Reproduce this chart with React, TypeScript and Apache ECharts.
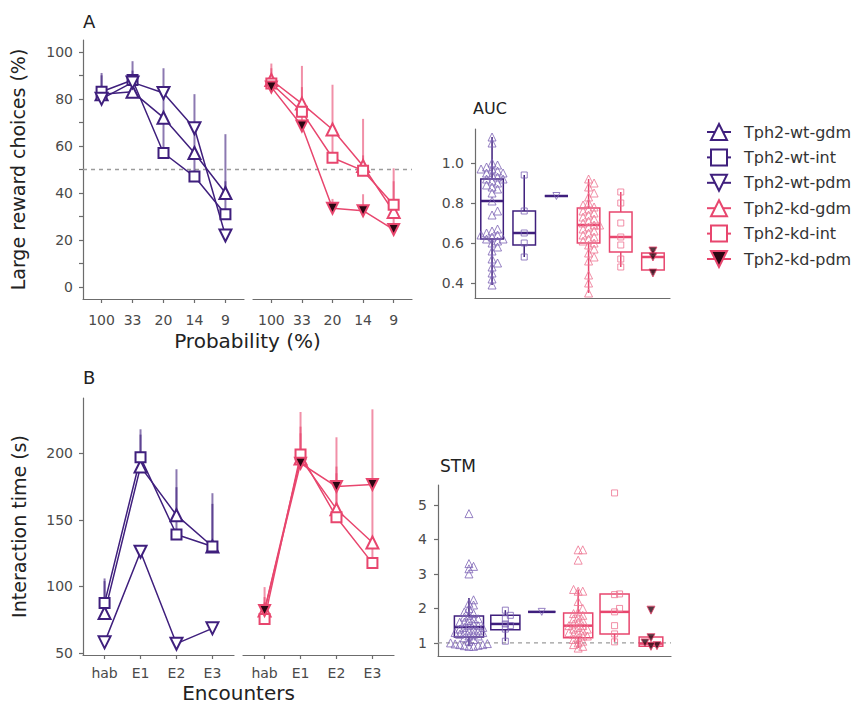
import React, { useEffect, useRef } from "react";
import * as echarts from "echarts";

// ---------- categories & labels ----------
const groups = [
  "Tph2-wt-gdm",
  "Tph2-wt-int",
  "Tph2-wt-pdm",
  "Tph2-kd-gdm",
  "Tph2-kd-int",
  "Tph2-kd-pdm",
];
const probabilityLabels = ["100", "33", "20", "14", "9"];
const encounterLabels = ["hab", "E1", "E2", "E3"];
const choiceTickValues = [0, 10, 20, 30, 40, 50, 60, 70, 80, 90, 100];
const choiceLabelValues = [0, 20, 40, 60, 80, 100];
const timeTickValues = [50, 100, 150, 200];
const aucTickValues = [0.4, 0.6, 0.8, 1.0];
const stmTickValues = [1, 2, 3, 4, 5];
const chanceLevel = 50;
const stmReference = 1;

// ---------- panel A: large reward choices (%) per probability ----------
const choiceWtGdm = [82, 83, 72, 57, 40];
const choiceWtInt = [83, 88, 57, 47, 31];
const choiceWtPdm = [80, 87, 82.5, 67.5, 22];
const choiceKdGdm = [88, 78, 67, 51.5, 32];
const choiceKdInt = [86.5, 74.5, 55, 49.5, 35];
const choiceKdPdm = [85, 68.5, 33.5, 32.5, 24.5];
// upper ends of the error bars
const choiceWtGdmUpper = [90, 92, 93, 82, 65];
const choiceWtIntUpper = [91, 96, 72, 57, 45];
const choiceKdGdmUpper = [95, 94, 86, 71.5, 50.5];
const choiceKdIntUpper = [93, 85, 67, 56, 45];
const choiceKdPdmUpper = [90, 78, 37.5, 39.5, 30];

// ---------- panel B: interaction time (s) per encounter ----------
const timeWtGdm = [80, 190, 153.5, 130];
const timeWtInt = [87.5, 197, 139, 130];
const timeWtPdm = [58, 126, 57, 68.5];
const timeKdGdm = [82, 196, 158, 133];
const timeKdInt = [75.5, 199, 152, 117.5];
const timeKdPdm = [82, 192.5, 175, 176.5];
const timeWtGdmUpper = [106, 214, 188, 170];
const timeWtIntUpper = [104, 218, 174.5, 162];
const timeKdGdmUpper = [99.5, 231, 212, 177];
const timeKdIntUpper = [88, 220, 185, 133];
const timeKdPdmUpper = [92, 215, 190, 233];

// ---------- AUC: individual animals ----------
const aucWtGdm = [
  1.13, 1.1, 1.0, 0.99, 0.98, 0.97, 0.97, 0.96, 0.95, 0.95, 0.94, 0.93, 0.92,
  0.92, 0.91, 0.9, 0.89, 0.88, 0.87, 0.85, 0.81, 0.76, 0.74, 0.67, 0.66, 0.65,
  0.64, 0.64, 0.63, 0.62, 0.62, 0.61, 0.6, 0.58, 0.56, 0.52, 0.5, 0.48, 0.45,
  0.42, 0.39,
];
const aucWtInt = [0.94, 0.76, 0.65, 0.6, 0.53];
const aucWtPdm = [0.835];
const aucKdGdm = [
  0.92, 0.9, 0.88, 0.85, 0.83, 0.8, 0.79, 0.78, 0.77, 0.76, 0.75, 0.74, 0.73,
  0.72, 0.71, 0.7, 0.69, 0.69, 0.68, 0.67, 0.66, 0.65, 0.64, 0.63, 0.62, 0.61,
  0.6, 0.59, 0.57, 0.55, 0.53, 0.51, 0.44, 0.4, 0.35,
];
const aucKdInt = [0.855, 0.8, 0.7, 0.63, 0.59, 0.52, 0.48];
const aucKdPdm = [0.56, 0.53, 0.45];
// box statistics: [lower whisker, Q1, median, Q3, upper whisker]
const aucBoxWtGdm = [0.39, 0.62, 0.81, 0.92, 1.13];
const aucBoxWtInt = [0.53, 0.59, 0.65, 0.76, 0.94];
const aucBoxWtPdm = [0.835, 0.835, 0.835, 0.835, 0.835];
const aucBoxKdGdm = [0.35, 0.6, 0.69, 0.775, 0.92];
const aucBoxKdInt = [0.48, 0.555, 0.63, 0.755, 0.855];
const aucBoxKdPdm = [0.45, 0.465, 0.53, 0.55, 0.56];

// ---------- STM: individual animals ----------
const stmWtGdm = [
  4.75, 3.3, 3.22, 3.15, 3.0, 2.25, 2.15, 2.1, 2.0, 1.9, 1.85, 1.8, 1.75, 1.7,
  1.7, 1.65, 1.6, 1.6, 1.55, 1.5, 1.5, 1.45, 1.45, 1.4, 1.4, 1.35, 1.35, 1.3,
  1.3, 1.3, 1.25, 1.25, 1.2, 1.2, 1.15, 1.1, 1.05, 1.0, 0.98, 0.97, 0.95, 0.95,
  0.93, 0.92, 0.9, 0.9,
];
const stmWtInt = [1.95, 1.8, 1.7, 1.55, 1.5, 1.4, 1.05];
const stmWtPdm = [1.9];
const stmKdGdm = [
  3.7, 3.7, 3.4, 2.55, 2.5, 2.5, 2.2, 2.0, 1.9, 1.85, 1.8, 1.75, 1.7, 1.65, 1.6,
  1.55, 1.5, 1.5, 1.45, 1.4, 1.4, 1.35, 1.3, 1.3, 1.25, 1.2, 1.2, 1.15, 1.1,
  1.05, 1.0, 0.95, 0.9, 0.85,
];
const stmKdInt = [5.35, 2.42, 2.4, 2.0, 1.9, 1.5, 1.26, 1.03];
const stmKdPdm = [1.95, 1.15, 1.0, 0.92, 0.9];
const stmBoxWtGdm = [0.9, 1.17, 1.46, 1.78, 2.3];
const stmBoxWtInt = [1.05, 1.38, 1.55, 1.8, 1.95];
const stmBoxWtPdm = [1.9, 1.9, 1.9, 1.9, 1.9];
const stmBoxKdGdm = [0.85, 1.15, 1.5, 1.87, 2.55];
const stmBoxKdInt = [1.03, 1.26, 1.9, 2.42, 2.42];
const stmBoxKdPdm = [0.88, 0.9, 0.98, 1.17, 1.17];

// ---------- styling ----------
const FONT = "DejaVu Sans";
const WT = "#3f1f7d";
const WT_POINT = "#7c62b4";
const KD = "#e8466e";
const KD_POINT = "#ee7391";
const KD_DARK = "#2a0612";
const AXIS = "#6c6c6c";
const TICK_TEXT = "#4a4a4a";
const TITLE_TEXT = "#222";
const CLEAR = "rgba(255,255,255,0)";

const UP = "triangle";
const SQUARE = "rect";
const DOWN = "path://M0,0L10,0L5,8.7Z";

type GroupStyle = { color: string; symbol: string; size: number; fill: string };
const lineStyles: Record<string, GroupStyle> = {
  "Tph2-wt-gdm": { color: WT, symbol: UP, size: 12, fill: "#fff" },
  "Tph2-wt-int": { color: WT, symbol: SQUARE, size: 10, fill: "#fff" },
  "Tph2-wt-pdm": { color: WT, symbol: DOWN, size: 12, fill: "#fff" },
  "Tph2-kd-gdm": { color: KD, symbol: UP, size: 12, fill: "#fff" },
  "Tph2-kd-int": { color: KD, symbol: SQUARE, size: 10, fill: "#fff" },
  "Tph2-kd-pdm": { color: KD, symbol: DOWN, size: 11, fill: KD_DARK },
};

// ---------- layout ----------
const gridAwt = { left: 83, top: 40, width: 161, height: 259 };
const gridAkd = { left: 253, top: 40, width: 159, height: 259 };
const gridAall = { left: 83, top: 40, width: 329, height: 259 };
const gridAuc = { left: 475, top: 129, width: 195, height: 169 };
const gridBwt = { left: 83, top: 398, width: 151, height: 257 };
const gridBkd = { left: 243, top: 398, width: 151, height: 257 };
const gridBall = { left: 83, top: 398, width: 311, height: 257 };
const gridStm = { left: 438, top: 485, width: 233, height: 171 };

const CHOICE_RANGE = [-5, 105];
const TIME_RANGE = [48.5, 241.5];
const AUC_X = [-0.53, 5.53];
const AUC_Y = [0.325, 1.17];
const STM_X = [-0.85, 5.55];
const STM_Y = [0.62, 5.58];

const axisLine = { show: true, onZero: false, lineStyle: { color: AXIS, width: 1.2 } };
const tickLine = { lineStyle: { color: AXIS, width: 1.2 }, length: 4 };
const tickText = { color: TICK_TEXT, fontFamily: FONT, fontSize: 14 };
const titleText = { color: TITLE_TEXT, fontFamily: FONT, fontSize: 19 };

function categoryXAxis(gridIndex: number, labels: string[], margin: number) {
  const idx = labels.map((_, i) => i);
  return {
    type: "value",
    gridIndex,
    min: -0.6,
    max: labels.length - 0.4,
    axisLine,
    axisTick: { show: true, ...tickLine, customValues: idx },
    axisLabel: {
      show: true,
      ...tickText,
      margin,
      customValues: idx,
      formatter: (v: number) => labels[Math.round(v)] ?? "",
    },
    splitLine: { show: false },
  };
}

function hiddenAxis(gridIndex: number, range: number[]) {
  return { type: "value", gridIndex, min: range[0], max: range[1], show: false };
}

function bareAxis(gridIndex: number, range: number[], showLine: boolean) {
  return {
    type: "value",
    gridIndex,
    min: range[0],
    max: range[1],
    axisLine: { ...axisLine, show: showLine },
    axisTick: { show: false },
    axisLabel: { show: false },
    splitLine: { show: false },
  };
}

function lineSeries(name: string, values: number[], axisIndex: number) {
  const s = lineStyles[name];
  return {
    type: "line",
    name,
    xAxisIndex: axisIndex,
    yAxisIndex: axisIndex,
    data: values.map((v, i) => [i, v]),
    symbol: s.symbol,
    symbolSize: s.size,
    showSymbol: true,
    lineStyle: { color: s.color, width: 1.5 },
    itemStyle: { color: s.fill, borderColor: s.color, borderWidth: 2 },
    emphasis: { disabled: true },
    silent: true,
    z: 4,
  };
}

function errorSeries(values: number[], upper: number[], axisIndex: number, color: string) {
  return {
    type: "custom",
    xAxisIndex: axisIndex,
    yAxisIndex: axisIndex,
    silent: true,
    z: 2,
    data: values.map((v, i) => [i, v, upper[i]]),
    renderItem: (_p: any, api: any) => {
      const a = api.coord([api.value(0), api.value(1)]);
      const b = api.coord([api.value(0), api.value(2)]);
      return {
        type: "line",
        shape: { x1: a[0], y1: a[1], x2: b[0], y2: b[1] },
        style: { stroke: color, lineWidth: 2, opacity: 0.6 },
      };
    },
  };
}

function boxSeries(stats: number[], cat: number, axisIndex: number, color: string, widthUnits: number) {
  return {
    type: "custom",
    xAxisIndex: axisIndex,
    yAxisIndex: axisIndex,
    silent: true,
    z: 3,
    data: [[cat, ...stats]],
    renderItem: (_p: any, api: any) => {
      const x = api.value(0);
      const c = (d: number) => api.coord([x, api.value(d)]);
      const pMin = c(1), pQ1 = c(2), pMed = c(3), pQ3 = c(4), pMax = c(5);
      const half = api.size([widthUnits, 0])[0] / 2;
      const cx = pMed[0];
      const stroke = { stroke: color, lineWidth: 1.5, fill: "none" };
      return {
        type: "group",
        children: [
          { type: "line", shape: { x1: cx, y1: pMin[1], x2: cx, y2: pQ1[1] }, style: stroke },
          { type: "line", shape: { x1: cx, y1: pQ3[1], x2: cx, y2: pMax[1] }, style: stroke },
          {
            type: "rect",
            shape: { x: cx - half, y: pQ3[1], width: half * 2, height: pQ1[1] - pQ3[1] },
            style: stroke,
          },
          {
            type: "line",
            shape: { x1: cx - half, y1: pMed[1], x2: cx + half, y2: pMed[1] },
            style: { stroke: color, lineWidth: 2.5 },
          },
        ],
      };
    },
  };
}

// simple beeswarm: horizontal pixel offsets so that the dots do not overlap
function swarmOffsets(values: number[], pxPerY: number, diameter: number) {
  const order = values.map((_, i) => i).sort((a, b) => values[a] - values[b]);
  const placed: { x: number; y: number }[] = [];
  const out = new Array(values.length).fill(0);
  const step = diameter * 0.5;
  for (const i of order) {
    const y = values[i] * pxPerY;
    let chosen = 0;
    for (let k = 0; k < 400; k++) {
      const off = Math.ceil(k / 2) * step * (k % 2 === 1 ? 1 : -1);
      const free = placed.every((p) => (p.x - off) ** 2 + (p.y - y) ** 2 >= diameter * diameter);
      if (free) {
        chosen = off;
        break;
      }
    }
    placed.push({ x: chosen, y });
    out[i] = chosen;
  }
  return out;
}

function swarmSeries(
  values: number[],
  cat: number,
  axisIndex: number,
  grid: { width: number; height: number },
  xr: number[],
  yr: number[],
  symbol: string,
  size: number,
  spacing: number,
  stroke: string,
  fill: string
) {
  const pxX = grid.width / (xr[1] - xr[0]);
  const pxY = grid.height / (yr[1] - yr[0]);
  const offs = swarmOffsets(values, pxY, spacing);
  return {
    type: "scatter",
    xAxisIndex: axisIndex,
    yAxisIndex: axisIndex,
    silent: true,
    z: 5,
    symbol,
    symbolSize: size,
    itemStyle: { color: fill, borderColor: stroke, borderWidth: 1 },
    data: values.map((v, i) => [cat + offs[i] / pxX, v]),
  };
}

function buildOption() {
  const grids = [gridAwt, gridAkd, gridAall, gridAuc, gridBwt, gridBkd, gridBall, gridStm].map(
    (g) => ({ ...g, outerBoundsMode: "none", containLabel: false })
  );

  const xAxis = [
    categoryXAxis(0, probabilityLabels, 14),
    categoryXAxis(1, probabilityLabels, 14),
    {
      ...bareAxis(2, [0, 1], false),
      name: "Probability (%)",
      nameLocation: "middle",
      nameGap: 32,
      nameTextStyle: { ...titleText, fontSize: 20 },
    },
    bareAxis(3, AUC_X, true),
    categoryXAxis(4, encounterLabels, 11),
    categoryXAxis(5, encounterLabels, 11),
    {
      ...bareAxis(6, [0, 1], false),
      name: "Encounters",
      nameLocation: "middle",
      nameGap: 28,
      nameTextStyle: { ...titleText, fontSize: 20 },
    },
    bareAxis(7, STM_X, true),
  ];

  const yAxis = [
    {
      type: "value",
      gridIndex: 0,
      min: CHOICE_RANGE[0],
      max: CHOICE_RANGE[1],
      axisLine,
      axisTick: { show: true, ...tickLine, customValues: choiceTickValues },
      axisLabel: { show: true, ...tickText, margin: 10, customValues: choiceLabelValues },
      splitLine: { show: false },
      name: "Large reward choices (%)",
      nameLocation: "middle",
      nameGap: 56,
      nameTextStyle: titleText,
    },
    hiddenAxis(1, CHOICE_RANGE),
    hiddenAxis(2, CHOICE_RANGE),
    {
      type: "value",
      gridIndex: 3,
      min: AUC_Y[0],
      max: AUC_Y[1],
      axisLine,
      axisTick: { show: true, ...tickLine, customValues: aucTickValues },
      axisLabel: {
        show: true,
        ...tickText,
        margin: 11,
        customValues: aucTickValues,
        formatter: (v: number) => v.toFixed(1),
      },
      splitLine: { show: false },
    },
    {
      type: "value",
      gridIndex: 4,
      min: TIME_RANGE[0],
      max: TIME_RANGE[1],
      axisLine,
      axisTick: { show: true, ...tickLine, customValues: timeTickValues },
      axisLabel: { show: true, ...tickText, margin: 10, customValues: timeTickValues },
      splitLine: { show: false },
      name: "Interaction time (s)",
      nameLocation: "middle",
      nameGap: 55,
      nameTextStyle: titleText,
    },
    hiddenAxis(5, TIME_RANGE),
    hiddenAxis(6, TIME_RANGE),
    {
      type: "value",
      gridIndex: 7,
      min: STM_Y[0],
      max: STM_Y[1],
      axisLine,
      axisTick: { show: true, ...tickLine, customValues: stmTickValues },
      axisLabel: { show: true, ...tickText, margin: 11, customValues: stmTickValues },
      splitLine: { show: false },
    },
  ];

  const refLine = (axisIndex: number, xr: number[], y: number) => ({
    type: "line",
    xAxisIndex: axisIndex,
    yAxisIndex: axisIndex,
    data: [
      [xr[0], y],
      [xr[1], y],
    ],
    symbol: "none",
    silent: true,
    z: 1,
    lineStyle: { color: "#9c9c9c", width: 1.3, type: [4, 4] },
  });

  const series: any[] = [
    // panel A lines (first, so that the legend takes its icons from them)
    lineSeries("Tph2-wt-gdm", choiceWtGdm, 0),
    lineSeries("Tph2-wt-int", choiceWtInt, 0),
    lineSeries("Tph2-wt-pdm", choiceWtPdm, 0),
    lineSeries("Tph2-kd-gdm", choiceKdGdm, 1),
    lineSeries("Tph2-kd-int", choiceKdInt, 1),
    lineSeries("Tph2-kd-pdm", choiceKdPdm, 1),
    errorSeries(choiceWtGdm, choiceWtGdmUpper, 0, WT),
    errorSeries(choiceWtInt, choiceWtIntUpper, 0, WT),
    errorSeries(choiceKdGdm, choiceKdGdmUpper, 1, KD),
    errorSeries(choiceKdInt, choiceKdIntUpper, 1, KD),
    errorSeries(choiceKdPdm, choiceKdPdmUpper, 1, KD),
    refLine(2, [0, 1], chanceLevel),

    // panel B lines
    lineSeries("Tph2-wt-gdm", timeWtGdm, 4),
    lineSeries("Tph2-wt-int", timeWtInt, 4),
    lineSeries("Tph2-wt-pdm", timeWtPdm, 4),
    lineSeries("Tph2-kd-gdm", timeKdGdm, 5),
    lineSeries("Tph2-kd-int", timeKdInt, 5),
    lineSeries("Tph2-kd-pdm", timeKdPdm, 5),
    errorSeries(timeWtGdm, timeWtGdmUpper, 4, WT),
    errorSeries(timeWtInt, timeWtIntUpper, 4, WT),
    errorSeries(timeKdGdm, timeKdGdmUpper, 5, KD),
    errorSeries(timeKdInt, timeKdIntUpper, 5, KD),
    errorSeries(timeKdPdm, timeKdPdmUpper, 5, KD),

    // AUC boxes and animals
    boxSeries(aucBoxWtGdm, 0, 3, WT, 0.7),
    boxSeries(aucBoxWtInt, 1, 3, WT, 0.7),
    boxSeries(aucBoxWtPdm, 2, 3, WT, 0.72),
    boxSeries(aucBoxKdGdm, 3, 3, KD, 0.7),
    boxSeries(aucBoxKdInt, 4, 3, KD, 0.7),
    boxSeries(aucBoxKdPdm, 5, 3, KD, 0.7),
    swarmSeries(aucWtGdm, 0, 3, gridAuc, AUC_X, AUC_Y, UP, 8, 5.5, WT_POINT, CLEAR),
    swarmSeries(aucWtInt, 1, 3, gridAuc, AUC_X, AUC_Y, SQUARE, 6, 5, WT_POINT, CLEAR),
    swarmSeries(aucWtPdm, 2, 3, gridAuc, AUC_X, AUC_Y, DOWN, 7, 5, WT_POINT, CLEAR),
    swarmSeries(aucKdGdm, 3, 3, gridAuc, AUC_X, AUC_Y, UP, 8, 5.5, KD_POINT, CLEAR),
    swarmSeries(aucKdInt, 4, 3, gridAuc, AUC_X, AUC_Y, SQUARE, 6, 5, KD_POINT, CLEAR),
    swarmSeries(aucKdPdm, 5, 3, gridAuc, AUC_X, AUC_Y, DOWN, 8, 6, KD, KD_DARK),

    // STM boxes and animals
    refLine(7, STM_X, stmReference),
    boxSeries(stmBoxWtGdm, 0, 7, WT, 0.8),
    boxSeries(stmBoxWtInt, 1, 7, WT, 0.8),
    boxSeries(stmBoxWtPdm, 2, 7, WT, 0.75),
    boxSeries(stmBoxKdGdm, 3, 7, KD, 0.8),
    boxSeries(stmBoxKdInt, 4, 7, KD, 0.8),
    boxSeries(stmBoxKdPdm, 5, 7, KD, 0.65),
    swarmSeries(stmWtGdm, 0, 7, gridStm, STM_X, STM_Y, UP, 8, 4.6, WT_POINT, CLEAR),
    swarmSeries(stmWtInt, 1, 7, gridStm, STM_X, STM_Y, SQUARE, 6, 5, WT_POINT, CLEAR),
    swarmSeries(stmWtPdm, 2, 7, gridStm, STM_X, STM_Y, DOWN, 7, 5, WT_POINT, CLEAR),
    swarmSeries(stmKdGdm, 3, 7, gridStm, STM_X, STM_Y, UP, 8, 4.6, KD_POINT, CLEAR),
    swarmSeries(stmKdInt, 4, 7, gridStm, STM_X, STM_Y, SQUARE, 6, 5, KD_POINT, CLEAR),
    swarmSeries(stmKdPdm, 5, 7, gridStm, STM_X, STM_Y, DOWN, 8, 6, KD, KD_DARK),
  ];

  const label = (text: string, x: number, y: number, size: number) => ({
    type: "text",
    x,
    y,
    silent: true,
    style: {
      text,
      fill: TITLE_TEXT,
      fontFamily: FONT,
      fontSize: size,
      align: "left",
      verticalAlign: "middle",
    },
  });

  return {
    animation: false,
    backgroundColor: "#ffffff",
    textStyle: { fontFamily: FONT },
    grid: grids,
    xAxis,
    yAxis,
    legend: {
      orient: "vertical",
      left: 701,
      top: 118,
      itemWidth: 24,
      itemHeight: 20,
      itemGap: 7.4,
      selectedMode: false,
      textStyle: { fontFamily: FONT, fontSize: 16, color: "#333", padding: [0, 0, 0, 8] },
      data: groups,
    },
    graphic: [
      label("A", 83, 21, 18),
      label("B", 83, 377, 18),
      label("AUC", 473, 108, 16),
      label("STM", 440, 466, 17),
    ],
    series,
  };
}

export default function App() {
  const ref = useRef<HTMLDivElement>(null);
  useEffect(() => {
    if (!ref.current) return;
    const chart = echarts.init(ref.current, null, { renderer: "svg" });
    chart.setOption(buildOption() as any);
    return () => chart.dispose();
  }, []);
  return (
    <div
      ref={ref}
      style={{ position: "fixed", left: 0, top: 0, width: 852, height: 708, background: "#fff" }}
    />
  );
}
